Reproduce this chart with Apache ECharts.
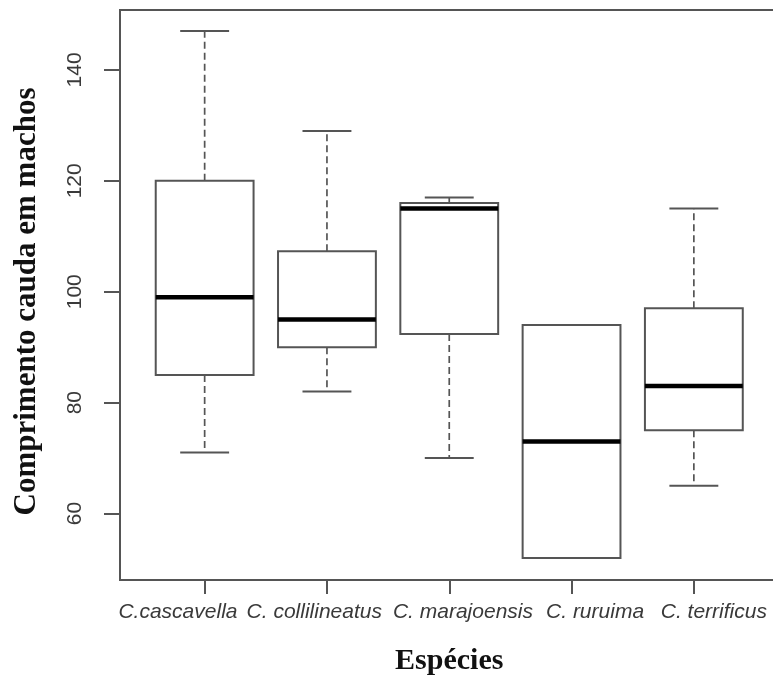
<!DOCTYPE html>
<html>
<head>
<meta charset="utf-8">
<script src="https://cdn.jsdelivr.net/npm/echarts@6/dist/echarts.min.js"></script>
<style>
html, body { margin: 0; padding: 0; background: #ffffff; }
#chart { width: 773px; height: 681px; }
</style>
</head>
<body>
<div id="chart"></div>
<script>
// ---- Data ----
const categories = ['C.cascavella', 'C. collilineatus', 'C. marajoensis', 'C. ruruima', 'C. terrificus'];
const whiskerLow  = [71, 82, 70, 52, 65];
const quartile1   = [85, 90, 92.4, 52, 75];
const medians     = [99, 95, 115, 73, 83];
const quartile3   = [120, 107.3, 116, 94, 97];
const whiskerHigh = [147, 129, 117, 94, 115];
const yTicks = [60, 80, 100, 120, 140];
const yTitle = 'Comprimento cauda em machos';
const xTitle = 'Espécies';

// ---- Build options ----
const rows = categories.map((c, i) => [i, whiskerLow[i], quartile1[i], medians[i], quartile3[i], whiskerHigh[i]]);

// label nudges (px, style only) to mimic the reference's label placement
const labelShift = [-26.7, -12.7, 13.7, 23.5, 20];
const rich = {};
labelShift.forEach((d, i) => {
  rich['s' + i] = {
    fontSize: 21, fontStyle: 'italic', fontFamily: 'Liberation Sans, Arial, sans-serif', color: '#3a3a3a',
    padding: d < 0 ? [0, -2 * d, 0, 0] : [0, 0, 0, 2 * d]
  };
});

const lineColor = '#555';

function renderItem(params, api) {
  const i = api.value(0);
  const lo = api.value(1), q1v = api.value(2), md = api.value(3), q3v = api.value(4), hi = api.value(5);
  const cMed = api.coord([i, md]);
  const x = cMed[0];
  const bw = api.size([1, 0])[0];
  const hw = bw * 0.4;
  const cw = bw * 0.2;
  const yLo = api.coord([i, lo])[1];
  const yQ1 = api.coord([i, q1v])[1];
  const yQ3 = api.coord([i, q3v])[1];
  const yHi = api.coord([i, hi])[1];
  const yMd = cMed[1];
  const dashStyle = { stroke: lineColor, lineWidth: 1.7, lineDash: [7, 4], fill: null };
  const solid = { stroke: lineColor, lineWidth: 2, fill: null };
  return {
    type: 'group',
    children: [
      { type: 'line', shape: { x1: x, y1: yQ3, x2: x, y2: yHi }, style: dashStyle },
      { type: 'line', shape: { x1: x, y1: yQ1, x2: x, y2: yLo }, style: dashStyle },
      { type: 'line', shape: { x1: x - cw, y1: yHi, x2: x + cw, y2: yHi }, style: solid },
      { type: 'line', shape: { x1: x - cw, y1: yLo, x2: x + cw, y2: yLo }, style: solid },
      { type: 'rect', shape: { x: x - hw, y: yQ3, width: 2 * hw, height: yQ1 - yQ3 }, style: { stroke: lineColor, lineWidth: 2, fill: '#ffffff' } },
      { type: 'line', shape: { x1: x - hw, y1: yMd, x2: x + hw, y2: yMd }, style: { stroke: '#000', lineWidth: 4.5 } }
    ]
  };
}

const chart = echarts.init(document.getElementById('chart'), null, { renderer: 'canvas' });
chart.setOption({
  animation: false,
  backgroundColor: '#ffffff',
  grid: [
    { left: 143.5, top: 10, width: 611.5, bottom: 101 }
  ],
  // plot frame (R's box()): left, top and bottom sides; the right side lies beyond the picture
  graphic: [
    { type: 'polyline', z: 10, silent: true,
      shape: { points: [[800, 10], [120, 10], [120, 580], [800, 580]] },
      style: { stroke: lineColor, lineWidth: 2, fill: null } }
  ],
  xAxis: [
    {
      type: 'category', data: categories, boundaryGap: true,
      name: xTitle, nameLocation: 'middle', nameGap: 67,
      nameTextStyle: { fontFamily: 'Liberation Serif, Times New Roman, serif', fontWeight: 'bold', fontSize: 30, color: '#111' },
      axisLine: { show: false },
      axisTick: { show: true, alignWithLabel: true, length: 15, lineStyle: { color: lineColor, width: 2 } },
      axisLabel: {
        interval: 0, hideOverlap: false, margin: 23,
        formatter: (v, i) => '{s' + i + '|' + v + '}',
        rich: rich
      },
      splitLine: { show: false }
    }
  ],
  yAxis: [
    {
      type: 'value', min: 48.2, max: 150.8, offset: 23.5,
      name: yTitle, nameLocation: 'middle', nameGap: 78, nameRotate: 90,
      nameTextStyle: { fontFamily: 'Liberation Serif, Times New Roman, serif', fontWeight: 'bold', fontSize: 31, color: '#111', padding: [0, 0, 0, -14] },
      axisLine: { show: false },
      axisTick: { show: true, length: 16, customValues: yTicks, lineStyle: { color: lineColor, width: 2 } },
      axisLabel: { customValues: yTicks, rotate: 90, margin: 34, fontSize: 21, fontFamily: 'Liberation Sans, Arial, sans-serif', color: '#3a3a3a' },
      splitLine: { show: false }
    }
  ],
  series: [
    {
      type: 'custom',
      renderItem: renderItem,
      encode: { x: 0, y: [1, 2, 3, 4, 5] },
      data: rows,
      clip: false
    }
  ]
});
</script>
</body>
</html>
